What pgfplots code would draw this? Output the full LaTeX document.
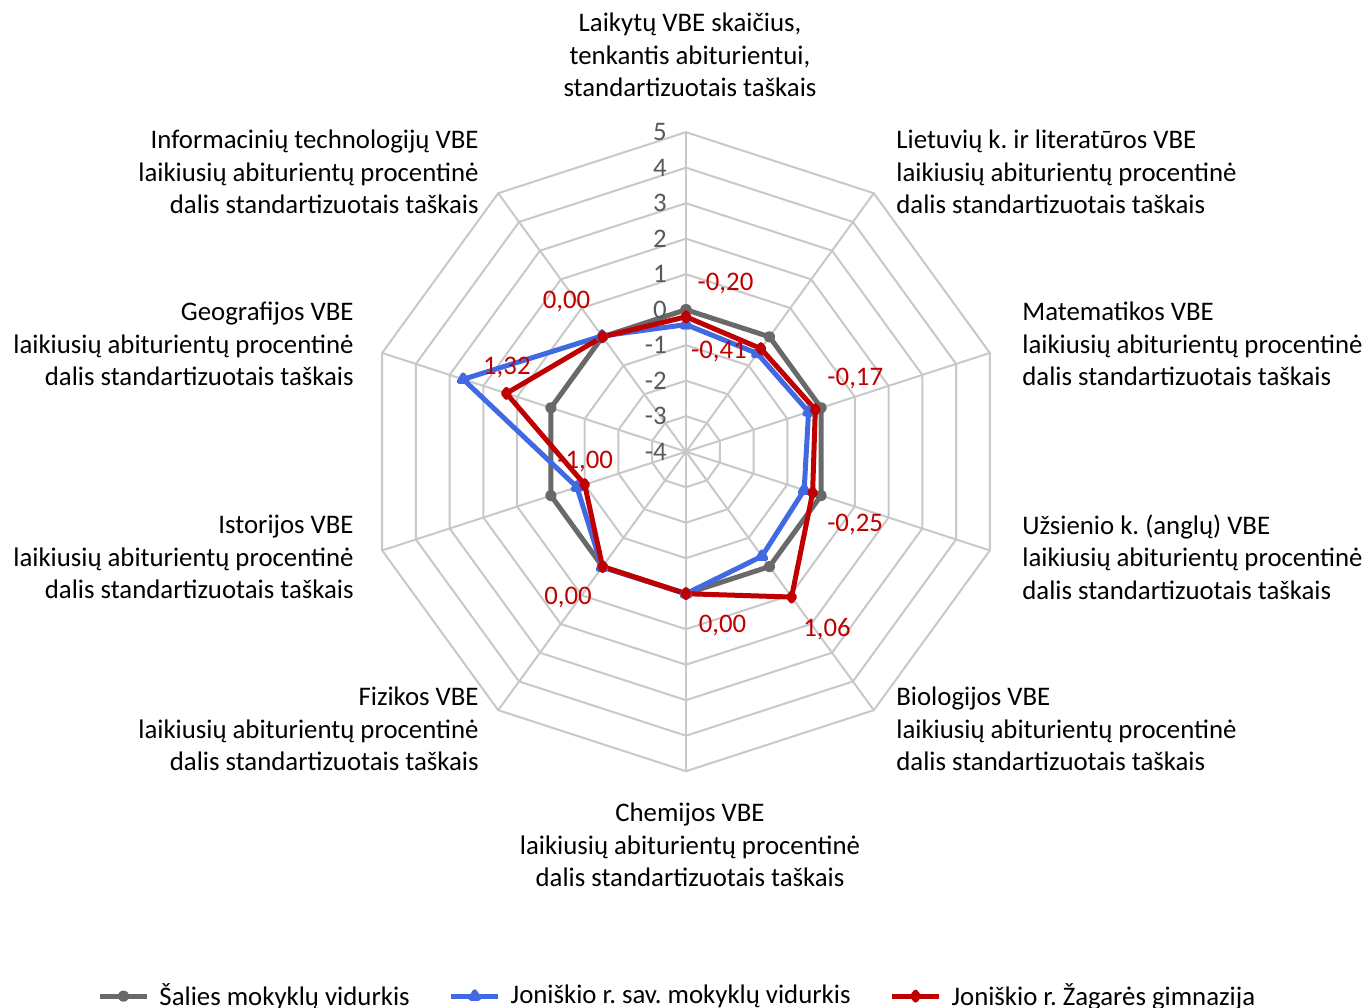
\documentclass[border=0pt]{standalone}
\usepackage{pgfplots}
\pgfplotsset{compat=1.18}
\usepackage{pgfplotstable}
\usepackage{fontspec}
\setmainfont{Carlito}
\frenchspacing
\definecolor{sgray}{RGB}{105,105,105}
\definecolor{jblue}{RGB}{65,105,225}
\definecolor{zred}{RGB}{192,0,0}
\definecolor{gridc}{RGB}{200,200,200}
\definecolor{tickc}{RGB}{89,89,89}
\newcommand\lbl{\fontsize{13.4pt}{16.25pt}\selectfont}

\pgfplotstableread{
k s b r lab dx dy
0 0 -0.42 -0.20 -0,20 19.75 16.75
1 0 -0.58 -0.41 -0,41 -21 -1.25
2 0 -0.37 -0.17 -0,17 20 15.5
3 0 -0.50 -0.25 -0,25 21.25 -16
4 0 -0.36 1.06 1,06 17.75 -16.25
5 0 0.00 0.00 0,00 18.25 -15.75
6 0 0.02 0.00 0,00 -17.25 -15.25
7 0 -0.77 -1.00 -1,00 0.25 11.75
8 0 2.60 1.32 1,32 0.25 12.75
9 0 0.03 0.00 0,00 -18 17.5
10 0 -0.42 -0.20 -0,20 0 0
}\radar

\begin{document}
\begin{tikzpicture}
% grid (radius unit = value + 4)
\begin{scope}[x=17.75pt,y=17.75pt]
  \foreach \r in {1,...,9} {
    \draw[gridc, line width=1pt, line join=miter] (90:\r) \foreach \i in {1,...,9} { -- ({90-36*\i}:\r) } -- cycle;
  }
  \foreach \i in {0,...,9} {
    \draw[gridc, line width=1pt] (0,0) -- ({90-36*\i}:9);
  }
\end{scope}

\begin{axis}[
  at={(0,0)}, anchor=origin,
  x=17.75pt, y=17.75pt,
  xmin=-9, xmax=9, ymin=-9, ymax=9,
  hide axis, clip=false,
  legend columns=3,
  legend image code/.code={\draw[mark repeat=2,mark phase=2,#1] plot coordinates {(0pt,0pt)(11.75pt,0pt)(23.5pt,0pt)};},
  legend style={draw=none, fill=none, font=\lbl,
    at={(axis description cs:0.488,-0.352)}, anchor=center,
    /tikz/every even column/.append style={column sep=17.5pt},
    /tikz/every odd column/.append style={column sep=3pt}},
]
\addplot[sgray, line width=2.5pt, line join=round, mark=*, mark size=1.6pt, mark options={solid}]
  table[x expr={(\thisrow{s}+4)*cos(90-36*\thisrow{k})}, y expr={(\thisrow{s}+4)*sin(90-36*\thisrow{k})}] {\radar};
\addlegendentry{Šalies mokyklų vidurkis}
\addplot[jblue, line width=2.5pt, line join=round, mark=triangle*, mark size=2.2pt, mark options={solid}]
  table[x expr={(\thisrow{b}+4)*cos(90-36*\thisrow{k})}, y expr={(\thisrow{b}+4)*sin(90-36*\thisrow{k})}] {\radar};
\addlegendentry{Joniškio r. sav. mokyklų vidurkis}
\addplot[zred, line width=2.5pt, line join=round, mark=diamond*, mark size=2pt, mark options={solid}]
  table[x expr={(\thisrow{r}+4)*cos(90-36*\thisrow{k})}, y expr={(\thisrow{r}+4)*sin(90-36*\thisrow{k})}] {\radar};
\addlegendentry{Joniškio r. Žagarės gimnazija}
\addplot[draw=none, mark=none, forget plot, nodes near coords, point meta=explicit symbolic,
  skip coords between index={10}{11},
  every node near coord/.append style={anchor=center, text=zred, font=\lbl, inner sep=0pt}]
  table[x expr={(\thisrow{r}+4)*cos(90-36*\thisrow{k})+\thisrow{dx}/17.75}, y expr={(\thisrow{r}+4)*sin(90-36*\thisrow{k})+\thisrow{dy}/17.75}, meta=lab] {\radar};
\end{axis}

\begin{scope}[x=0.5pt,y=-0.5pt,shift={(-686,-451.7)}]
  \foreach \v in {-4,...,5} {
    \pgfmathsetmacro\yy{451.7-(\v+4)*35.5}
    \node[anchor=east, inner sep=0pt, text=tickc, font=\lbl] at (667,\yy) {\v};
  }
  \node[align=center, inner sep=0pt, font=\lbl] at (690,55) {Laikytų VBE skaičius,\\tenkantis abiturientui,\\standartizuotais taškais};
  \node[align=left, anchor=west, inner sep=0pt, font=\lbl] at (896,172) {Lietuvių k. ir literatūros VBE\\laikiusių abiturientų procentinė\\dalis standartizuotais taškais};
  \node[align=left, anchor=west, inner sep=0pt, font=\lbl] at (1022,344) {Matematikos VBE\\laikiusių abiturientų procentinė\\dalis standartizuotais taškais};
  \node[align=left, anchor=west, inner sep=0pt, font=\lbl] at (1022,557) {Užsienio k. (anglų) VBE\\laikiusių abiturientų procentinė\\dalis standartizuotais taškais};
  \node[align=left, anchor=west, inner sep=0pt, font=\lbl] at (896,729) {Biologijos VBE\\laikiusių abiturientų procentinė\\dalis standartizuotais taškais};
  \node[align=center, inner sep=0pt, font=\lbl] at (690,845) {Chemijos VBE\\laikiusių abiturientų procentinė\\dalis standartizuotais taškais};
  \node[align=right, anchor=east, inner sep=0pt, font=\lbl] at (479,729) {Fizikos VBE\\laikiusių abiturientų procentinė\\dalis standartizuotais taškais};
  \node[align=right, anchor=east, inner sep=0pt, font=\lbl] at (354,557) {Istorijos VBE\\laikiusių abiturientų procentinė\\dalis standartizuotais taškais};
  \node[align=right, anchor=east, inner sep=0pt, font=\lbl] at (354,344) {Geografijos VBE\\laikiusių abiturientų procentinė\\dalis standartizuotais taškais};
  \node[align=right, anchor=east, inner sep=0pt, font=\lbl] at (479,172) {Informacinių technologijų VBE\\laikiusių abiturientų procentinė\\dalis standartizuotais taškais};
  \pgfresetboundingbox
  \path[use as bounding box] (0,0) rectangle (1371,1007);
\end{scope}
\end{tikzpicture}
\end{document}
